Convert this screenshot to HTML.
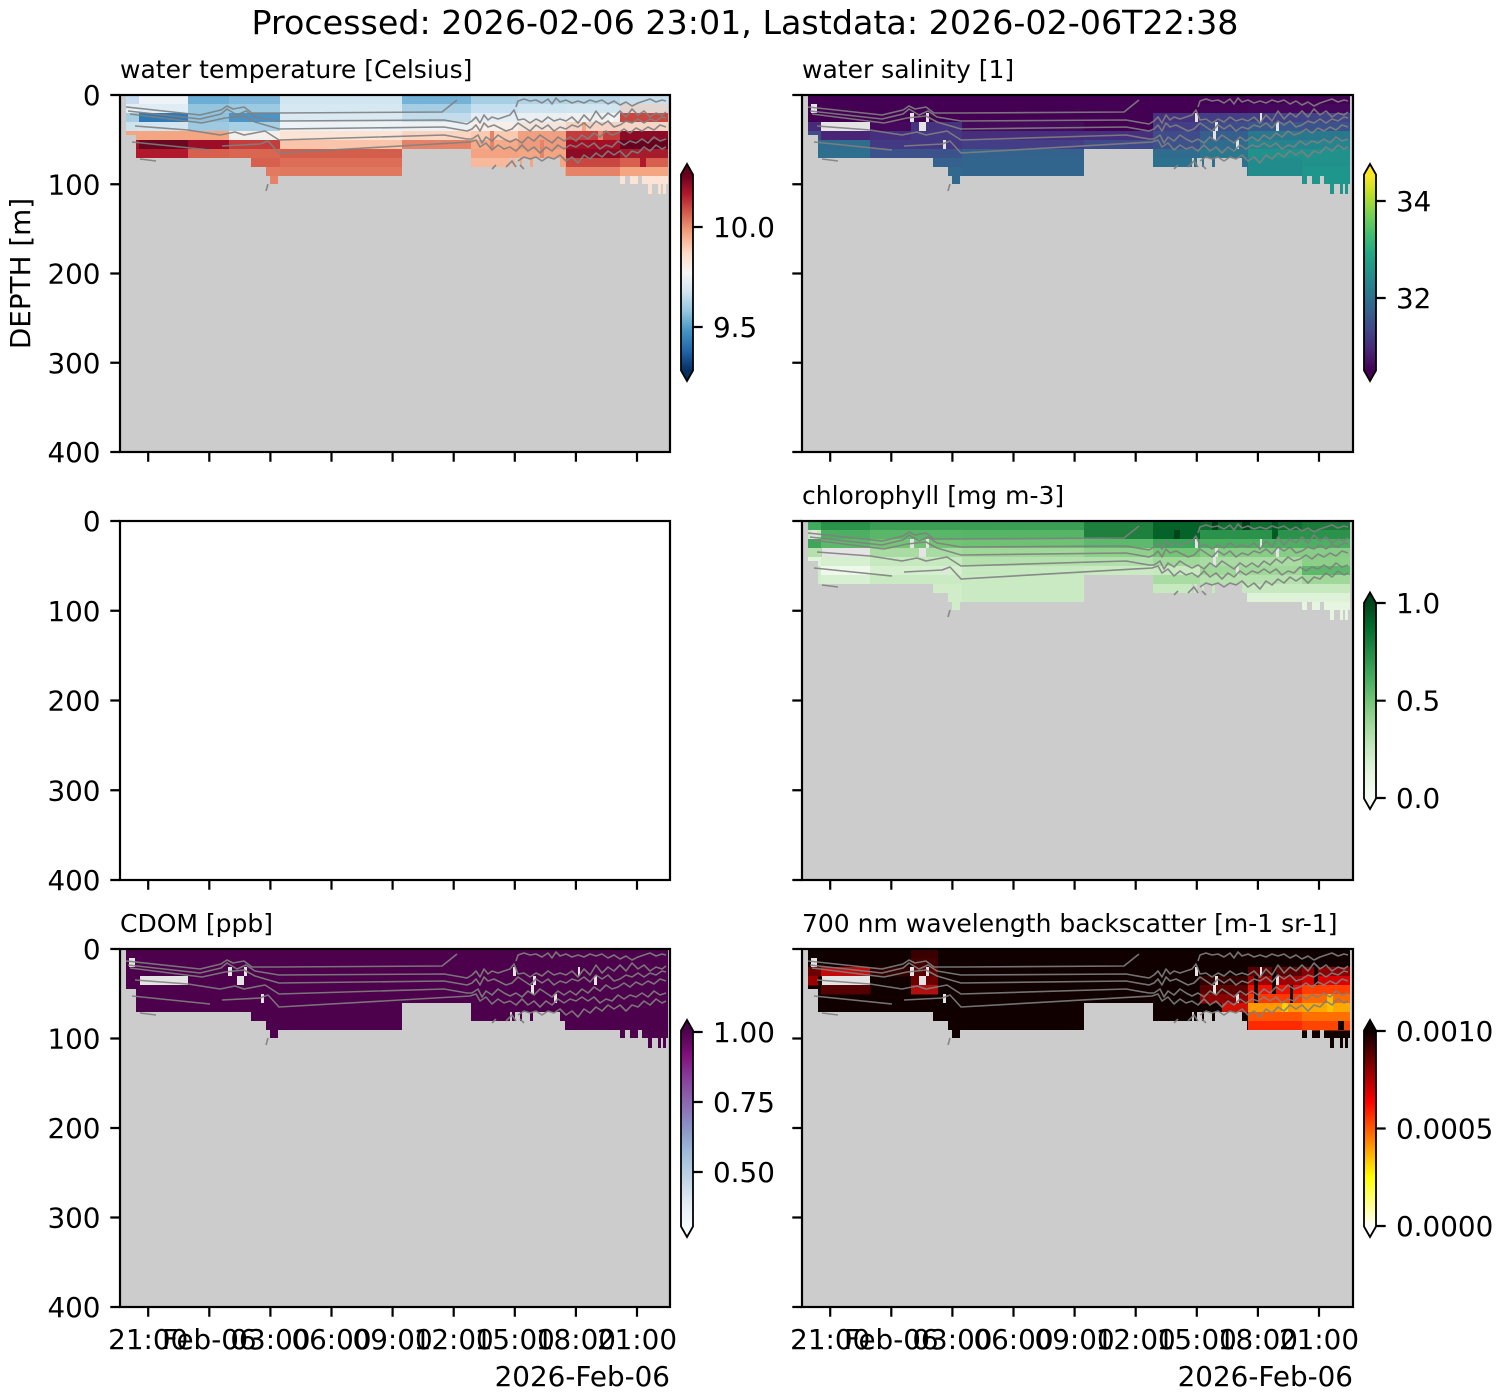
<!DOCTYPE html>
<html><head><meta charset="utf-8"><style>
html,body{margin:0;padding:0;background:#fff;}
svg{display:block;font-family:"DejaVu Sans","Liberation Sans",sans-serif;}
</style></head><body>
<svg width="1500" height="1400" viewBox="0 0 1500 1400" xmlns="http://www.w3.org/2000/svg">
<defs>
<clipPath id="m"><path d="M6,0 H548 V89 H546 V99 H543 V89 H541 V99 H538 V89 H532 V99 H528 V89 H522 V81 H518 V89 H510 V81 H505 V89 H500 V81 H445 V72 H440 V63 H413 V72 H410 V63 H402 V72 H400 V63 H395 V72 H392 V63 H390 V72 H351 V54 H282 V81 H158 V89 H150 V81 H146 V72 H131 V63 H16 V40 H6 Z"/></clipPath>
<linearGradient id="gT" x1="0" y1="1" x2="0" y2="0"><stop offset="0" stop-color="#053061"/><stop offset=".1" stop-color="#2166ac"/><stop offset=".2" stop-color="#4393c3"/><stop offset=".3" stop-color="#92c5de"/><stop offset=".4" stop-color="#d1e5f0"/><stop offset=".5" stop-color="#f7f7f7"/><stop offset=".6" stop-color="#fddbc7"/><stop offset=".7" stop-color="#f4a582"/><stop offset=".8" stop-color="#d6604d"/><stop offset=".9" stop-color="#b2182b"/><stop offset="1" stop-color="#67001f"/></linearGradient>
<linearGradient id="gV" x1="0" y1="1" x2="0" y2="0"><stop offset="0" stop-color="#440154"/><stop offset=".1" stop-color="#482475"/><stop offset=".2" stop-color="#414487"/><stop offset=".3" stop-color="#355f8d"/><stop offset=".4" stop-color="#2a788e"/><stop offset=".5" stop-color="#21918c"/><stop offset=".6" stop-color="#22a884"/><stop offset=".7" stop-color="#44bf70"/><stop offset=".8" stop-color="#7ad151"/><stop offset=".9" stop-color="#bddf26"/><stop offset="1" stop-color="#fde725"/></linearGradient>
<linearGradient id="gG" x1="0" y1="1" x2="0" y2="0"><stop offset="0" stop-color="#f7fcf5"/><stop offset=".125" stop-color="#e5f5e0"/><stop offset=".25" stop-color="#c7e9c0"/><stop offset=".375" stop-color="#a1d99b"/><stop offset=".5" stop-color="#74c476"/><stop offset=".625" stop-color="#41ab5d"/><stop offset=".75" stop-color="#238b45"/><stop offset=".875" stop-color="#006d2c"/><stop offset="1" stop-color="#00441b"/></linearGradient>
<linearGradient id="gB" x1="0" y1="1" x2="0" y2="0"><stop offset="0" stop-color="#f7fcfd"/><stop offset=".125" stop-color="#e0ecf4"/><stop offset=".25" stop-color="#bfd3e6"/><stop offset=".375" stop-color="#9ebcda"/><stop offset=".5" stop-color="#8c96c6"/><stop offset=".625" stop-color="#8c6bb1"/><stop offset=".75" stop-color="#88419d"/><stop offset=".875" stop-color="#810f7c"/><stop offset="1" stop-color="#4d004b"/></linearGradient>
<linearGradient id="gH" x1="0" y1="1" x2="0" y2="0"><stop offset="0" stop-color="#ffffff"/><stop offset=".254" stop-color="#ffff00"/><stop offset=".635" stop-color="#ff0000"/><stop offset="1" stop-color="#0b0000"/></linearGradient>
<g id="holes" fill="#e4e4e4">
<rect x="9" y="9" width="6" height="9"/><rect x="20" y="27" width="48" height="9"/><rect x="108" y="18" width="4" height="9"/><rect x="124" y="18" width="3" height="9"/><rect x="117" y="27" width="7" height="9"/><rect x="141" y="45" width="3" height="9"/><rect x="393" y="18" width="3" height="9"/><rect x="413" y="27" width="3" height="9"/><rect x="411" y="36" width="3" height="9"/><rect x="434" y="45" width="3" height="9"/><rect x="458" y="18" width="2" height="9"/><rect x="474" y="27" width="3" height="9"/>
</g>
<g id="ct" fill="none" stroke="#808080" stroke-width="1.6" stroke-linejoin="round" stroke-opacity="0.9">
<polyline points="6,12 80,20 101,15 107,11 113,14 124,12 132,18 159,18 322,17 337,5"/>
<polyline points="8,16 80,24 101,19 107,14 117,20 126,16 135,22 159,26 324,25 347,29 352,26 356,22 360,28 364,20 368,25 372,22 378,24 384,22 390,20 394,15 398,25 404,24 410,28 416,24 422,27 428,22 434,26 440,24 446,26 452,22 458,28 464,20 470,26 476,16 482,24 488,18 494,22 500,16 506,22 512,14 518,20 524,16 530,22 536,18 542,20 546,17"/>
<polyline points="10,19 82,28 105,23 124,21 135,27 159,34 324,32 347,36 352,34 356,30 360,36 364,28 368,32 374,30 380,33 386,36 392,34 398,28 404,32 410,36 416,30 422,34 428,30 434,36 440,32 446,34 452,30 458,32 464,28 470,33 476,26 482,30 488,26 494,32 500,30 506,26 512,28 518,24 524,28 530,24 536,26 542,22 546,23"/>
<polyline points="15,31 68,35 100,40 115,37 124,40 145,36 159,45 324,40 347,44 352,44 358,40 362,48 366,42 372,46 378,40 384,44 390,47 396,44 402,48 408,42 414,46 420,40 426,44 432,48 438,42 444,46 450,42 456,46 462,40 468,44 474,38 480,42 486,36 492,40 498,38 504,34 510,38 516,33 522,36 528,32 534,35 540,30 546,32"/>
<polyline points="12,47 90,55"/>
<polyline points="102,51 140,49 148,46 159,58 350,47 356,45 360,52 366,48 372,55 378,50 384,54 390,52 396,56 402,50 408,56 414,52 420,58 426,52 432,56 438,50 444,54 450,50 456,52 462,48 468,52 474,48 480,54 486,50 492,52 498,46 504,50 510,46 516,48 522,44 528,48 534,42 540,46 546,44"/>
<polyline points="20,64 36,66"/>
<polyline points="396,12 398,6 404,4 410,6 416,5 422,8 428,4 432,9 436,3 440,7 446,5 452,8 458,6 464,8 470,5 476,7 482,5 488,9 494,6 500,10 506,7 512,11 518,8 524,6 530,4 536,7 542,5 546,6"/>
<polyline points="398,66 404,62 410,64 416,62 422,66 428,62 434,64 440,60 446,66 452,62 458,68 464,60 470,64 476,58 482,62 488,56 494,60 500,56 506,62 512,56 518,58 524,52 530,56 536,50 542,54 546,52"/>
<polyline points="372,74 376,70"/><polyline points="386,72 392,66 396,72"/><polyline points="400,70 404,74"/><polyline points="146,96 148,89"/>
</g>
</defs>
<rect width="1500" height="1400" fill="#fff"/>

<text x="745" y="34" font-size="33.3" text-anchor="middle">Processed: 2026-02-06 23:01, Lastdata: 2026-02-06T22:38</text>

<!-- Panel 1: temperature -->
<g transform="translate(120,95)">
<rect width="550" height="357" fill="#cccccc"/>
<g clip-path="url(#m)">
<rect x="0" y="0" width="19.5" height="9.5" fill="#c6dbef"/><rect x="0" y="9" width="19.5" height="9.5" fill="#e6eef5"/><rect x="0" y="18" width="19.5" height="9.5" fill="#a6cde2"/><rect x="0" y="27" width="19.5" height="9.5" fill="#cfe3ef"/><rect x="0" y="36" width="19.5" height="9.5" fill="#f4a582"/><rect x="0" y="45" width="19.5" height="9.5" fill="#a50f26"/><rect x="0" y="54" width="19.5" height="60" fill="#b2182b"/>
<rect x="19" y="0" width="49.5" height="9.5" fill="#eef3f7"/><rect x="19" y="9" width="49.5" height="9.5" fill="#e0ecf4"/><rect x="19" y="18" width="49.5" height="9.5" fill="#2f79b5"/><rect x="19" y="27" width="49.5" height="9.5" fill="#d3e5f0"/><rect x="19" y="36" width="49.5" height="9.5" fill="#f4a582"/><rect x="19" y="45" width="49.5" height="9.5" fill="#6a0822"/><rect x="19" y="54" width="49.5" height="60" fill="#b2182b"/>
<rect x="68" y="0" width="41.5" height="9.5" fill="#6aaed6"/><rect x="68" y="9" width="41.5" height="9.5" fill="#93c5de"/><rect x="68" y="18" width="41.5" height="9.5" fill="#8fc2dd"/><rect x="68" y="27" width="41.5" height="9.5" fill="#9ecae1"/><rect x="68" y="36" width="41.5" height="9.5" fill="#f4a582"/><rect x="68" y="45" width="41.5" height="9.5" fill="#9c0d27"/><rect x="68" y="54" width="41.5" height="60" fill="#d6604d"/>
<rect x="109" y="0" width="51.5" height="9.5" fill="#7fb8da"/><rect x="109" y="9" width="51.5" height="9.5" fill="#9ccae1"/><rect x="109" y="18" width="51.5" height="9.5" fill="#4d94c6"/><rect x="109" y="27" width="51.5" height="9.5" fill="#a8d0e4"/><rect x="109" y="36" width="51.5" height="9.5" fill="#f5efeb"/><rect x="109" y="45" width="51.5" height="9.5" fill="#c43c3c"/><rect x="109" y="54" width="51.5" height="9.5" fill="#d96650"/><rect x="109" y="63" width="51.5" height="9.5" fill="#d6604d"/><rect x="109" y="72" width="51.5" height="9.5" fill="#e07b62"/><rect x="109" y="81" width="51.5" height="40" fill="#e58267"/>
<rect x="160" y="0" width="122.5" height="9.5" fill="#d1e5f0"/><rect x="160" y="9" width="122.5" height="9.5" fill="#d6e8f1"/><rect x="160" y="18" width="122.5" height="9.5" fill="#dbe9f2"/><rect x="160" y="27" width="122.5" height="9.5" fill="#ecf2f6"/><rect x="160" y="36" width="122.5" height="9.5" fill="#fbe3d6"/><rect x="160" y="45" width="122.5" height="9.5" fill="#f9c4a9"/><rect x="160" y="54" width="122.5" height="9.5" fill="#d35e4b"/><rect x="160" y="63" width="122.5" height="9.5" fill="#dd6d56"/><rect x="160" y="72" width="122.5" height="40" fill="#e0785f"/>
<rect x="282" y="0" width="69.5" height="9.5" fill="#74b2d7"/><rect x="282" y="9" width="69.5" height="9.5" fill="#a5cde3"/><rect x="282" y="18" width="69.5" height="9.5" fill="#c2dcec"/><rect x="282" y="27" width="69.5" height="9.5" fill="#ecf1f4"/><rect x="282" y="36" width="69.5" height="9.5" fill="#fbd5c1"/><rect x="282" y="45" width="69.5" height="40" fill="#e58368"/>
<rect x="351" y="0" width="47.5" height="9.5" fill="#a6cfe4"/><rect x="351" y="9" width="47.5" height="9.5" fill="#c5def0"/><rect x="351" y="18" width="47.5" height="9.5" fill="#e4eef4"/><rect x="351" y="27" width="47.5" height="9.5" fill="#f7eeea"/><rect x="351" y="36" width="47.5" height="9.5" fill="#f9c9b0"/><rect x="351" y="45" width="47.5" height="9.5" fill="#f5ab8a"/><rect x="351" y="54" width="47.5" height="9.5" fill="#f3a381"/><rect x="351" y="63" width="47.5" height="40" fill="#f7b89c"/>
<rect x="398" y="0" width="48.5" height="9.5" fill="#b0d3e7"/><rect x="398" y="9" width="48.5" height="9.5" fill="#cde3ef"/><rect x="398" y="18" width="48.5" height="9.5" fill="#eaeff2"/><rect x="398" y="27" width="48.5" height="9.5" fill="#f3e4dc"/><rect x="398" y="36" width="48.5" height="9.5" fill="#f0a080"/><rect x="398" y="45" width="48.5" height="9.5" fill="#ee9a7c"/><rect x="398" y="54" width="48.5" height="9.5" fill="#f4a582"/><rect x="398" y="63" width="48.5" height="40" fill="#f4a582"/>
<rect x="446" y="0" width="54.5" height="9.5" fill="#b7d6e8"/><rect x="446" y="9" width="54.5" height="9.5" fill="#d1e5f0"/><rect x="446" y="18" width="54.5" height="9.5" fill="#eef0f2"/><rect x="446" y="27" width="54.5" height="9.5" fill="#f3d4c4"/><rect x="446" y="36" width="54.5" height="9.5" fill="#c43c3c"/><rect x="446" y="45" width="54.5" height="9.5" fill="#a50f26"/><rect x="446" y="54" width="54.5" height="9.5" fill="#8e0b25"/><rect x="446" y="63" width="54.5" height="9.5" fill="#c94741"/><rect x="446" y="72" width="54.5" height="40" fill="#e58267"/>
<rect x="500" y="0" width="50" height="9.5" fill="#c8dfee"/><rect x="500" y="9" width="50" height="9.5" fill="#e2d4cf"/><rect x="500" y="18" width="50" height="9.5" fill="#c94741"/><rect x="500" y="27" width="50" height="9.5" fill="#f4d5c6"/><rect x="500" y="36" width="50" height="9.5" fill="#8b0a26"/><rect x="500" y="45" width="50" height="9.5" fill="#67001f"/><rect x="500" y="54" width="50" height="9.5" fill="#a51d2d"/><rect x="500" y="63" width="50" height="9.5" fill="#d6604d"/><rect x="500" y="72" width="50" height="9.5" fill="#f4a582"/><rect x="500" y="81" width="50" height="9.5" fill="#fbe3d6"/><rect x="500" y="90" width="50" height="20" fill="#fde0d0"/>
<rect x="462" y="27" width="4" height="9" fill="#f4a582"/><rect x="478" y="36" width="5" height="9" fill="#e58267"/><rect x="420" y="45" width="4" height="18" fill="#e58267"/><rect x="370" y="36" width="4" height="18" fill="#e58267"/><rect x="490" y="18" width="4" height="9" fill="#f7f7f7"/><rect x="520" y="63" width="6" height="9" fill="#b2182b"/>
</g>
<use href="#ct"/>
<rect width="550" height="357" fill="none" stroke="#000" stroke-width="2.2"/>
</g>

<!-- Panel 2: salinity -->
<g transform="translate(802,95)">
<rect width="551" height="357" fill="#cccccc"/>
<g clip-path="url(#m)">
<rect x="0" y="0" width="550" height="27.5" fill="#440154"/>
<rect x="0" y="27" width="19.5" height="9.5" fill="#472a7a"/><rect x="0" y="36" width="19.5" height="9.5" fill="#3e4c8a"/><rect x="0" y="45" width="19.5" height="60" fill="#2d708e"/>
<rect x="19" y="27" width="49.5" height="9.5" fill="#e4e4e4"/><rect x="19" y="36" width="49.5" height="9.5" fill="#482576"/><rect x="19" y="45" width="49.5" height="9.5" fill="#2f6c8e"/><rect x="19" y="54" width="49.5" height="60" fill="#2e6e8e"/>
<rect x="68" y="27" width="41.5" height="9.5" fill="#46085c"/><rect x="68" y="36" width="41.5" height="9.5" fill="#46307e"/><rect x="68" y="45" width="41.5" height="9.5" fill="#443a83"/><rect x="68" y="54" width="41.5" height="60" fill="#3b528b"/>
<rect x="109" y="27" width="51.5" height="9.5" fill="#46337f"/><rect x="109" y="36" width="51.5" height="18.5" fill="#453882"/><rect x="109" y="54" width="51.5" height="9.5" fill="#3b528b"/><rect x="109" y="63" width="51.5" height="9.5" fill="#34618d"/><rect x="109" y="72" width="51.5" height="40" fill="#31688e"/>
<rect x="160" y="27" width="122.5" height="9.5" fill="#450a5c"/><rect x="160" y="36" width="122.5" height="9.5" fill="#472e7c"/><rect x="160" y="45" width="122.5" height="9.5" fill="#433e85"/><rect x="160" y="54" width="122.5" height="9.5" fill="#33628d"/><rect x="160" y="63" width="122.5" height="40" fill="#32658e"/>
<rect x="282" y="27" width="69.5" height="9.5" fill="#440154"/><rect x="282" y="36" width="69.5" height="9.5" fill="#46307e"/><rect x="282" y="45" width="69.5" height="40" fill="#3e4a89"/>
<rect x="351" y="18" width="47.5" height="9.5" fill="#46317e"/><rect x="351" y="27" width="47.5" height="9.5" fill="#433e85"/><rect x="351" y="36" width="47.5" height="9.5" fill="#3e4c8a"/><rect x="351" y="45" width="47.5" height="9.5" fill="#3b528b"/><rect x="351" y="54" width="47.5" height="9.5" fill="#2f6c8e"/><rect x="351" y="63" width="47.5" height="40" fill="#2c728e"/>
<rect x="398" y="9" width="48.5" height="9.5" fill="#45065a"/><rect x="398" y="18" width="48.5" height="9.5" fill="#433e85"/><rect x="398" y="27" width="48.5" height="9.5" fill="#3d4d8a"/><rect x="398" y="36" width="48.5" height="9.5" fill="#355f8d"/><rect x="398" y="45" width="48.5" height="9.5" fill="#2f6c8e"/><rect x="398" y="54" width="48.5" height="9.5" fill="#2a788e"/><rect x="398" y="63" width="48.5" height="40" fill="#2c728e"/>
<rect x="446" y="9" width="54.5" height="9.5" fill="#46085c"/><rect x="446" y="18" width="54.5" height="9.5" fill="#424086"/><rect x="446" y="27" width="54.5" height="9.5" fill="#38598c"/><rect x="446" y="36" width="54.5" height="9.5" fill="#2a788e"/><rect x="446" y="45" width="54.5" height="9.5" fill="#25858e"/><rect x="446" y="54" width="54.5" height="9.5" fill="#21918c"/><rect x="446" y="63" width="54.5" height="40" fill="#228c8d"/>
<rect x="500" y="9" width="50" height="9.5" fill="#46085c"/><rect x="500" y="18" width="50" height="9.5" fill="#414487"/><rect x="500" y="27" width="50" height="9.5" fill="#3b528b"/><rect x="500" y="36" width="50" height="9.5" fill="#2a788e"/><rect x="500" y="45" width="50" height="9.5" fill="#25858e"/><rect x="500" y="54" width="50" height="18.5" fill="#21918c"/><rect x="500" y="72" width="50" height="40" fill="#1f968b"/>
<use href="#holes"/>
</g>
<use href="#ct"/>
<rect width="551" height="357" fill="none" stroke="#000" stroke-width="2.2"/>
</g>

<!-- Panel 3: empty -->
<g transform="translate(120,521)">
<rect width="550" height="359" fill="#fff" stroke="#000" stroke-width="2.2"/>
</g>

<!-- Panel 4: chlorophyll -->
<g transform="translate(802,521)">
<rect width="551" height="359" fill="#cccccc"/>
<g clip-path="url(#m)">
<rect x="0" y="0" width="19.5" height="9.5" fill="#41ab5d"/><rect x="0" y="9" width="19.5" height="9.5" fill="#c7e9c0"/><rect x="0" y="18" width="19.5" height="9.5" fill="#3da65a"/><rect x="0" y="27" width="19.5" height="9.5" fill="#b5e0ae"/><rect x="0" y="36" width="19.5" height="9.5" fill="#e0f3db"/><rect x="0" y="45" width="19.5" height="60" fill="#d2edcb"/>
<rect x="19" y="0" width="49.5" height="9.5" fill="#2b9249"/><rect x="19" y="9" width="49.5" height="9.5" fill="#4daf62"/><rect x="19" y="18" width="49.5" height="9.5" fill="#5cb86a"/><rect x="19" y="27" width="49.5" height="9.5" fill="#a5db9f"/><rect x="19" y="36" width="49.5" height="9.5" fill="#d5efcf"/><rect x="19" y="45" width="49.5" height="9.5" fill="#eef8eb"/><rect x="19" y="54" width="49.5" height="60" fill="#d8f0d2"/>
<rect x="68" y="0" width="92.5" height="9.5" fill="#3a9f55"/><rect x="68" y="9" width="92.5" height="9.5" fill="#5ab769"/><rect x="68" y="18" width="92.5" height="9.5" fill="#74c476"/><rect x="68" y="27" width="92.5" height="9.5" fill="#a8dca2"/><rect x="68" y="36" width="92.5" height="9.5" fill="#c7e9c0"/><rect x="68" y="45" width="92.5" height="9.5" fill="#d5efcf"/><rect x="68" y="54" width="92.5" height="9.5" fill="#c9eac2"/><rect x="68" y="63" width="92.5" height="50" fill="#d0ecc9"/>
<rect x="160" y="0" width="122.5" height="9.5" fill="#3a9f55"/><rect x="160" y="9" width="122.5" height="9.5" fill="#56b567"/><rect x="160" y="18" width="122.5" height="9.5" fill="#6fc274"/><rect x="160" y="27" width="122.5" height="9.5" fill="#9fd899"/><rect x="160" y="36" width="122.5" height="9.5" fill="#b5e1ae"/><rect x="160" y="45" width="122.5" height="9.5" fill="#c7e9c0"/><rect x="160" y="54" width="122.5" height="50" fill="#c9eac3"/>
<rect x="282" y="0" width="69.5" height="18.5" fill="#1f7f3d"/><rect x="282" y="18" width="69.5" height="9.5" fill="#5db96b"/><rect x="282" y="27" width="69.5" height="9.5" fill="#8fd18b"/><rect x="282" y="36" width="69.5" height="9.5" fill="#b2e0ac"/><rect x="282" y="45" width="69.5" height="40" fill="#c9eac2"/>
<rect x="351" y="0" width="47.5" height="18.5" fill="#05632a"/><rect x="351" y="18" width="47.5" height="9.5" fill="#3da65a"/><rect x="351" y="27" width="47.5" height="9.5" fill="#74c476"/><rect x="351" y="36" width="47.5" height="9.5" fill="#a1d99b"/><rect x="351" y="45" width="47.5" height="9.5" fill="#c7e9c0"/><rect x="351" y="54" width="47.5" height="9.5" fill="#a9dca3"/><rect x="351" y="63" width="47.5" height="40" fill="#c7e9c0"/>
<rect x="398" y="0" width="102.5" height="9.5" fill="#0e6e30"/><rect x="398" y="9" width="102.5" height="9.5" fill="#2a924a"/><rect x="398" y="18" width="102.5" height="9.5" fill="#4daf62"/><rect x="398" y="27" width="102.5" height="9.5" fill="#87cd86"/><rect x="398" y="36" width="102.5" height="9.5" fill="#a9dca3"/><rect x="398" y="45" width="102.5" height="9.5" fill="#9fd899"/><rect x="398" y="54" width="102.5" height="9.5" fill="#b5e1ae"/><rect x="398" y="63" width="102.5" height="9.5" fill="#c7e9c0"/><rect x="398" y="72" width="102.5" height="40" fill="#ddf2d8"/>
<rect x="500" y="0" width="50" height="9.5" fill="#1a7a3a"/><rect x="500" y="9" width="50" height="9.5" fill="#2a924a"/><rect x="500" y="18" width="50" height="9.5" fill="#4daf62"/><rect x="500" y="27" width="50" height="9.5" fill="#87cd86"/><rect x="500" y="36" width="50" height="9.5" fill="#8ccf88"/><rect x="500" y="45" width="50" height="9.5" fill="#5cb86a"/><rect x="500" y="54" width="50" height="9.5" fill="#9fd899"/><rect x="500" y="63" width="50" height="9.5" fill="#c7e9c0"/><rect x="500" y="72" width="50" height="9.5" fill="#ddf2d8"/><rect x="500" y="81" width="50" height="30" fill="#e5f5e0"/>
<rect x="410" y="0" width="6" height="9" fill="#00441b"/><rect x="440" y="0" width="8" height="9" fill="#00441b"/><rect x="470" y="0" width="6" height="18" fill="#005a24"/><rect x="372" y="9" width="6" height="9" fill="#00441b"/>
<use href="#holes"/>
</g>
<use href="#ct"/>
<rect width="551" height="359" fill="none" stroke="#000" stroke-width="2.2"/>
</g>

<!-- Panel 5: CDOM -->
<g transform="translate(120,949)">
<rect width="550" height="358" fill="#cccccc"/>
<g clip-path="url(#m)">
<rect x="0" y="0" width="550" height="120" fill="#4d004b"/>
<use href="#holes"/>
</g>
<use href="#ct"/>
<rect width="550" height="358" fill="none" stroke="#000" stroke-width="2.2"/>
</g>

<!-- Panel 6: backscatter -->
<g transform="translate(802,949)">
<rect width="551" height="358" fill="#cccccc"/>
<g clip-path="url(#m)">
<rect x="0" y="0" width="550" height="120" fill="#100000"/>
<rect x="6" y="18" width="13" height="9.5" fill="#6a0000"/><rect x="6" y="27" width="10" height="9.5" fill="#9a0000"/>
<rect x="19" y="18" width="49.5" height="9.5" fill="#c40a0a"/><rect x="19" y="36" width="49.5" height="9.5" fill="#550000"/>
<rect x="68" y="18" width="41" height="9.5" fill="#300000"/>
<rect x="109" y="0" width="27" height="9.5" fill="#3a0000"/><rect x="109" y="9" width="27" height="9.5" fill="#420000"/><rect x="109" y="18" width="27" height="9.5" fill="#5a0000"/><rect x="109" y="27" width="27" height="9.5" fill="#6a0000"/><rect x="109" y="36" width="27" height="9.5" fill="#b01010"/>
<rect x="398" y="27" width="48" height="9.5" fill="#300000"/><rect x="398" y="36" width="48" height="9.5" fill="#5a0000"/><rect x="398" y="45" width="48" height="9.5" fill="#8b0000"/><rect x="420" y="54" width="26" height="9.5" fill="#d01000"/>
<rect x="446" y="18" width="54.5" height="9.5" fill="#5a0000"/><rect x="446" y="27" width="54.5" height="9.5" fill="#a00000"/><rect x="446" y="36" width="54.5" height="9.5" fill="#ee1000"/><rect x="446" y="45" width="54.5" height="9.5" fill="#ff3800"/><rect x="446" y="54" width="54.5" height="9.5" fill="#ff9a00"/><rect x="446" y="63" width="54.5" height="9.5" fill="#ff5500"/><rect x="446" y="72" width="54.5" height="9.5" fill="#ff2a00"/>
<rect x="500" y="18" width="50" height="9.5" fill="#8b0000"/><rect x="500" y="27" width="50" height="9.5" fill="#d80000"/><rect x="500" y="36" width="50" height="9.5" fill="#ff4000"/><rect x="500" y="45" width="50" height="9.5" fill="#ff6a00"/><rect x="500" y="54" width="50" height="9.5" fill="#ffa800"/><rect x="500" y="63" width="50" height="9.5" fill="#ff7000"/><rect x="500" y="72" width="50" height="9.5" fill="#ff4500"/>
<rect x="452" y="27" width="4" height="27" fill="#100000"/><rect x="470" y="18" width="4" height="27" fill="#100000"/><rect x="488" y="36" width="3" height="18" fill="#100000"/><rect x="512" y="18" width="4" height="18" fill="#100000"/><rect x="536" y="72" width="6" height="9" fill="#100000"/><rect x="480" y="54" width="6" height="9" fill="#ffd000"/><rect x="525" y="45" width="6" height="18" fill="#ffc000"/>
<use href="#holes"/>
</g>
<use href="#ct"/>
<rect width="551" height="358" fill="none" stroke="#000" stroke-width="2.2"/>
</g>

<!-- Y ticks -->
<g stroke="#000" stroke-width="2.2">
<path d="M110.3,95H120M110.3,184.25H120M110.3,273.5H120M110.3,362.75H120M110.3,452H120"/>
<path d="M792.3,95H802M792.3,184.25H802M792.3,273.5H802M792.3,362.75H802M792.3,452H802"/>
<path d="M110.3,521H120M110.3,610.75H120M110.3,700.5H120M110.3,790.25H120M110.3,880H120"/>
<path d="M792.3,521H802M792.3,610.75H802M792.3,700.5H802M792.3,790.25H802M792.3,880H802"/>
<path d="M110.3,949H120M110.3,1038.5H120M110.3,1128H120M110.3,1217.5H120M110.3,1307H120"/>
<path d="M792.3,949H802M792.3,1038.5H802M792.3,1128H802M792.3,1217.5H802M792.3,1307H802"/>
</g>
<!-- X ticks -->
<g stroke="#000" stroke-width="2.2">
<path d="M148.2,452v9.7M209.3,452v9.7M270.4,452v9.7M331.5,452v9.7M392.6,452v9.7M453.7,452v9.7M514.8,452v9.7M575.9,452v9.7M637,452v9.7"/>
<path d="M830.2,452v9.7M891.3,452v9.7M952.4,452v9.7M1013.5,452v9.7M1074.6,452v9.7M1135.7,452v9.7M1196.8,452v9.7M1257.9,452v9.7M1319,452v9.7"/>
<path d="M148.2,880v9.7M209.3,880v9.7M270.4,880v9.7M331.5,880v9.7M392.6,880v9.7M453.7,880v9.7M514.8,880v9.7M575.9,880v9.7M637,880v9.7"/>
<path d="M830.2,880v9.7M891.3,880v9.7M952.4,880v9.7M1013.5,880v9.7M1074.6,880v9.7M1135.7,880v9.7M1196.8,880v9.7M1257.9,880v9.7M1319,880v9.7"/>
<path d="M148.2,1307v9.7M209.3,1307v9.7M270.4,1307v9.7M331.5,1307v9.7M392.6,1307v9.7M453.7,1307v9.7M514.8,1307v9.7M575.9,1307v9.7M637,1307v9.7"/>
<path d="M830.2,1307v9.7M891.3,1307v9.7M952.4,1307v9.7M1013.5,1307v9.7M1074.6,1307v9.7M1135.7,1307v9.7M1196.8,1307v9.7M1257.9,1307v9.7M1319,1307v9.7"/>
</g>

<!-- Y tick labels -->
<g font-size="27.8" text-anchor="end">
<text x="100.5" y="105">0</text><text x="100.5" y="194.25">100</text><text x="100.5" y="283.5">200</text><text x="100.5" y="372.75">300</text><text x="100.5" y="462">400</text>
<text x="100.5" y="531">0</text><text x="100.5" y="620.75">100</text><text x="100.5" y="710.5">200</text><text x="100.5" y="800.25">300</text><text x="100.5" y="890">400</text>
<text x="100.5" y="959">0</text><text x="100.5" y="1048.5">100</text><text x="100.5" y="1138">200</text><text x="100.5" y="1227.5">300</text><text x="100.5" y="1317">400</text>
</g>
<text transform="translate(30,273.5) rotate(-90)" font-size="27.8" text-anchor="middle">DEPTH [m]</text>

<!-- X tick labels -->
<g font-size="27.8" text-anchor="middle">
<text x="148.2" y="1349">21:00</text><text x="209.3" y="1349">Feb-06</text><text x="270.4" y="1349">03:00</text><text x="331.5" y="1349">06:00</text><text x="392.6" y="1349">09:00</text><text x="453.7" y="1349">12:00</text><text x="514.8" y="1349">15:00</text><text x="575.9" y="1349">18:00</text><text x="637" y="1349">21:00</text>
<text x="830.2" y="1349">21:00</text><text x="891.3" y="1349">Feb-06</text><text x="952.4" y="1349">03:00</text><text x="1013.5" y="1349">06:00</text><text x="1074.6" y="1349">09:00</text><text x="1135.7" y="1349">12:00</text><text x="1196.8" y="1349">15:00</text><text x="1257.9" y="1349">18:00</text><text x="1319" y="1349">21:00</text>
</g>
<g font-size="27.8" text-anchor="end">
<text x="670" y="1386">2026-Feb-06</text><text x="1353" y="1386">2026-Feb-06</text>
</g>

<!-- Panel titles -->
<g font-size="25">
<text x="120" y="78">water temperature [Celsius]</text>
<text x="802" y="78">water salinity [1]</text>
<text x="802" y="504">chlorophyll [mg m-3]</text>
<text x="120" y="932">CDOM [ppb]</text>
<text x="802" y="932">700 nm wavelength backscatter [m-1 sr-1]</text>
</g>

<!-- Colorbars -->
<g>
<rect x="681" y="174.5" width="12" height="196" fill="url(#gT)"/>
<polygon points="681,175 687,164 693,175" fill="#67001f"/><polygon points="681,370 687,381 693,370" fill="#053061"/>
<polygon points="681,174.5 687,164 693,174.5 693,370.5 687,381 681,370.5" fill="none" stroke="#000" stroke-width="1.8"/>
<rect x="1364" y="174.5" width="12" height="196" fill="url(#gV)"/>
<polygon points="1364,175 1370,164 1376,175" fill="#fde725"/><polygon points="1364,370 1370,381 1376,370" fill="#440154"/>
<polygon points="1364,174.5 1370,164 1376,174.5 1376,370.5 1370,381 1364,370.5" fill="none" stroke="#000" stroke-width="1.8"/>
<rect x="1364" y="603" width="12" height="195.5" fill="url(#gG)"/>
<polygon points="1364,603.5 1370,592.5 1376,603.5" fill="#00441b"/><polygon points="1364,798 1370,809 1376,798" fill="#f7fcf5"/>
<polygon points="1364,603 1370,592.5 1376,603 1376,798.5 1370,809 1364,798.5" fill="none" stroke="#000" stroke-width="1.8"/>
<rect x="681" y="1030.5" width="12" height="196" fill="url(#gB)"/>
<polygon points="681,1031 687,1020 693,1031" fill="#4d004b"/><polygon points="681,1226 687,1237 693,1226" fill="#f7fcfd"/>
<polygon points="681,1030.5 687,1020 693,1030.5 693,1226.5 687,1237 681,1226.5" fill="none" stroke="#000" stroke-width="1.8"/>
<rect x="1364" y="1030.5" width="12" height="196" fill="url(#gH)"/>
<polygon points="1364,1031 1370,1020 1376,1031" fill="#0b0000"/><polygon points="1364,1226 1370,1237 1376,1226" fill="#ffffff"/>
<polygon points="1364,1030.5 1370,1020 1376,1030.5 1376,1226.5 1370,1237 1364,1226.5" fill="none" stroke="#000" stroke-width="1.8"/>
</g>
<g stroke="#000" stroke-width="2.2">
<path d="M693,227h9.7M693,327h9.7M1376,201h9.7M1376,298h9.7M1376,603h9.7M1376,700.7h9.7M1376,798h9.7M693,1032h9.7M693,1102h9.7M693,1172h9.7M1376,1031h9.7M1376,1128.5h9.7M1376,1226h9.7"/>
</g>
<g font-size="27.8">
<text x="713" y="237">10.0</text><text x="713" y="337">9.5</text>
<text x="1396" y="211">34</text><text x="1396" y="308">32</text>
<text x="1396" y="613">1.0</text><text x="1396" y="710.7">0.5</text><text x="1396" y="808">0.0</text>
<text x="713" y="1042">1.00</text><text x="713" y="1112">0.75</text><text x="713" y="1182">0.50</text>
<text x="1396" y="1041">0.0010</text><text x="1396" y="1138.5">0.0005</text><text x="1396" y="1236">0.0000</text>
</g>
</svg>
</body></html>
